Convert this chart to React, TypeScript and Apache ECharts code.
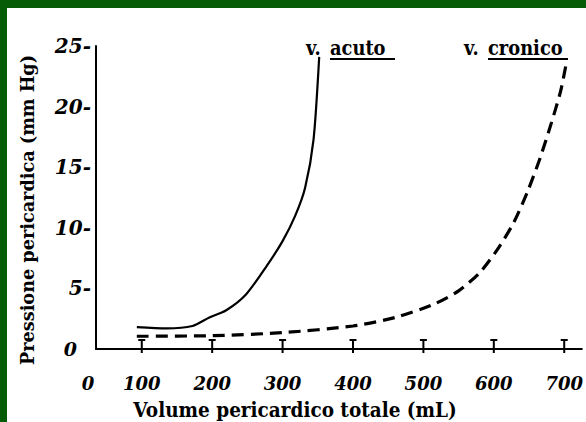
import React, { useEffect, useRef } from "react";
import * as echarts from "echarts";

// Volume (mL) / pressure (mm Hg)
const acuteVolume = [93, 135, 172, 196, 220, 248, 278, 300, 318, 332, 344, 352];
const acutePressure = [1.8, 1.7, 1.9, 2.6, 3.2, 4.5, 6.9, 8.9, 11.0, 13.3, 17.3, 24.1];
const chronicVolume = [93, 200, 300, 400, 460, 515, 550, 580, 605, 628, 648, 666, 682, 695, 704];
const chronicPressure = [1.05, 1.1, 1.35, 1.9, 2.6, 3.7, 4.8, 6.3, 8.2, 10.4, 13.0, 15.8, 18.7, 21.3, 23.9];
const xTickValues = [100, 200, 300, 400, 500, 600, 700];

const xTitle = "Volume pericardico totale (mL)";
const yTitle = "Pressione pericardica (mm Hg)";
const acuteLabel = ["v.", "acuto"];
const chronicLabel = ["v.", "cronico"];

const SERIF = "DejaVu Serif";

export default function App() {
  const ref = useRef<HTMLDivElement>(null);
  useEffect(() => {
    document.body.style.margin = "0";
    const chart = echarts.init(ref.current!, null, { renderer: "svg" });
    const pair = (xs: number[], ys: number[]) => xs.map((x, i) => [x, ys[i]]);
    const txt = (
      text: string,
      x: number,
      y: number,
      size: number,
      italic: boolean,
      align: string,
      sx: number
    ) => ({
      type: "text",
      x,
      y,
      scaleX: sx,
      style: {
        text,
        fontFamily: SERIF,
        fontSize: size,
        fontWeight: "bold",
        fontStyle: italic ? "italic" : "normal",
        fill: "#000",
        align,
        verticalAlign: "middle",
      },
    });
    chart.setOption({
      animation: false,
      backgroundColor: "#ffffff",
      textStyle: { fontFamily: SERIF },
      grid: { left: 96, right: 0, top: 46, bottom: 73, containLabel: false },
      xAxis: {
        type: "value",
        min: 35,
        max: 725,
        axisLine: { show: true, lineStyle: { color: "#000", width: 2 } },
        axisTick: { show: false },
        splitLine: { show: false },
        axisLabel: {
          customValues: xTickValues,
          margin: 25,
          fontFamily: SERIF,
          fontSize: 18,
          fontWeight: "bold",
          fontStyle: "italic",
          color: "#000",
        },
      },
      yAxis: {
        type: "value",
        min: 0,
        max: 25,
        interval: 5,
        axisLine: { show: true, lineStyle: { color: "#000", width: 2 } },
        axisTick: { show: false },
        splitLine: { show: false },
        axisLabel: {
          margin: 5,
          fontFamily: SERIF,
          fontSize: 20,
          fontWeight: "bold",
          fontStyle: "italic",
          color: "#000",
          formatter: (v: number) => (v === 0 ? "{z|0}" : v + "-"),
          rich: {
            z: {
              fontFamily: SERIF,
              fontSize: 19,
              fontWeight: "bold",
              fontStyle: "italic",
              color: "#000",
              padding: [0, 14, 0, 0],
            },
          },
        },
      },
      series: [
        {
          type: "line",
          data: pair(acuteVolume, acutePressure),
          smooth: 0.25,
          symbol: "none",
          lineStyle: { color: "#000", width: 2.2 },
        },
        {
          type: "line",
          data: pair(chronicVolume, chronicPressure),
          smooth: 0.25,
          symbol: "none",
          lineStyle: { color: "#000", width: 3.2, type: [12, 7] },
        },
        {
          type: "custom",
          data: xTickValues.map((v) => [v, 0]),
          clip: false,
          renderItem: (params: any, api: any) => {
            const p = api.coord([api.value(0), 0]);
            const style = { stroke: "#000", lineWidth: 2 };
            return {
              type: "group",
              children: [
                { type: "line", shape: { x1: p[0], y1: p[1] - 9, x2: p[0], y2: p[1] + 4 }, style },
                { type: "line", shape: { x1: p[0] - 3.5, y1: p[1] - 9, x2: p[0] + 3.5, y2: p[1] - 9 }, style },
              ],
            };
          },
        },
      ],
      graphic: [
        { type: "rect", shape: { x: 0, y: 0, width: 586, height: 8 }, style: { fill: "#075c07" }, silent: true },
        { type: "rect", shape: { x: 0, y: 0, width: 7, height: 422 }, style: { fill: "#075c07" }, silent: true },
        txt("0", 88, 383, 18, true, "center", 1),
        txt(xTitle, 295, 410, 20.5, false, "center", 0.9),
        { ...txt(yTitle, 27, 210, 19, false, "center", 0.93), rotation: Math.PI / 2 },
        txt(acuteLabel[0], 306, 48, 21, false, "left", 0.85),
        txt(acuteLabel[1], 330, 48, 21, false, "left", 0.85),
        { type: "line", shape: { x1: 330, y1: 59, x2: 395, y2: 59 }, style: { stroke: "#000", lineWidth: 2 } },
        txt(chronicLabel[0], 464, 48, 21, false, "left", 0.85),
        txt(chronicLabel[1], 488, 48, 21, false, "left", 0.85),
        { type: "line", shape: { x1: 488, y1: 59, x2: 568, y2: 59 }, style: { stroke: "#000", lineWidth: 2 } },
      ],
    });
    return () => chart.dispose();
  }, []);
  return <div ref={ref} style={{ width: 586, height: 422 }} />;
}
